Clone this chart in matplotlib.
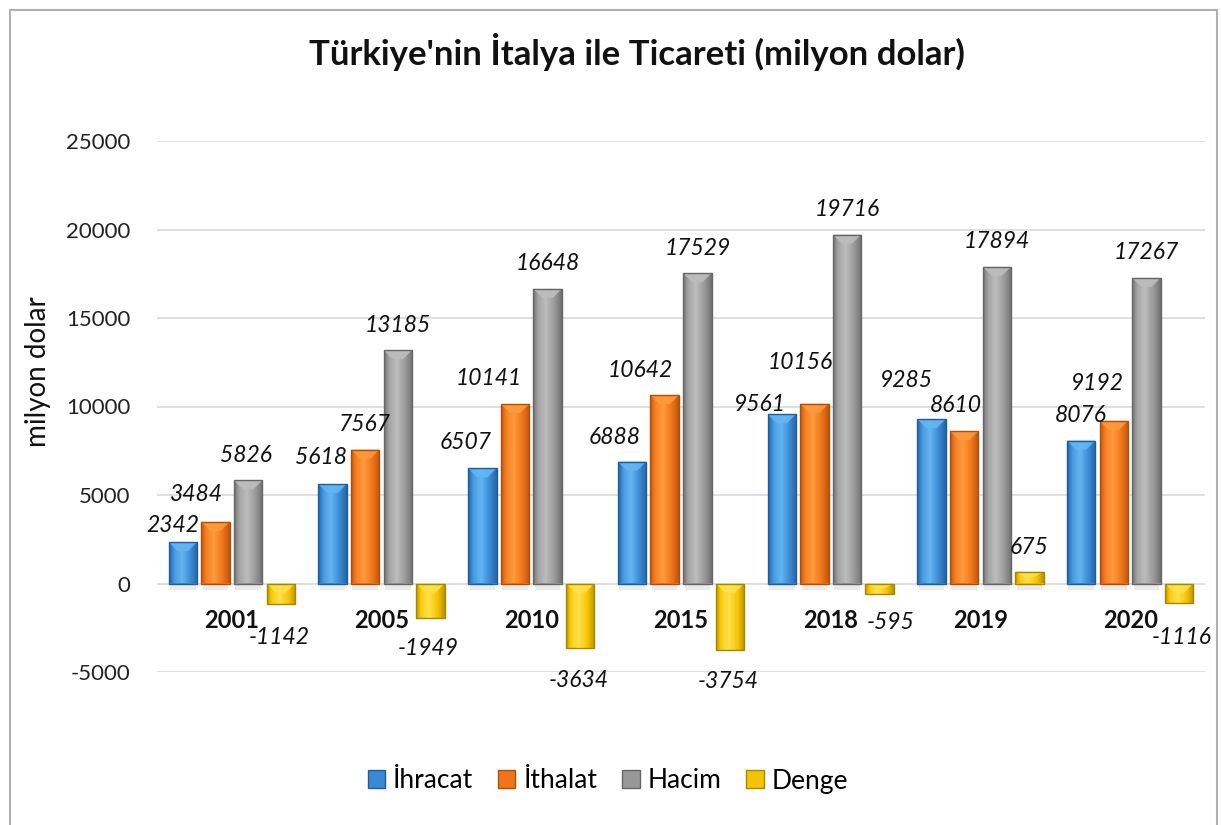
import numpy as np
import matplotlib
matplotlib.use("Agg")
import matplotlib.pyplot as plt
from matplotlib.patches import Patch, Polygon, Rectangle
from matplotlib.colors import LinearSegmentedColormap

plt.rcParams['font.family'] = ['Lato', 'DejaVu Sans']

# ---------------- data ----------------
years = ["2001", "2005", "2010", "2015", "2018", "2019", "2020"]
ihracat = [2342, 5618, 6507, 6888, 9561, 9285, 8076]
ithalat = [3484, 7567, 10141, 10642, 10156, 8610, 9192]
hacim = [5826, 13185, 16648, 17529, 19716, 17894, 17267]
denge = [-1142, -1949, -3634, -3754, -595, 675, -1116]
series_names = ["İhracat", "İthalat", "Hacim", "Denge"]
title = "Türkiye'nin İtalya ile Ticareti (milyon dolar)"
ylabel = "milyon dolar"
yticks = [-5000, 0, 5000, 10000, 15000, 20000, 25000]

# ---------------- style ----------------
# (light, main, dark)
palette = [
    ("#63B6F2", "#3A8AD3", "#1F5C99"),
    ("#FF9A3C", "#EE7519", "#B04E0C"),
    ("#BDBDBD", "#989898", "#666666"),
    ("#FFE14D", "#F5C400", "#A98600"),
]
# label shifts (pixels) relative to default placement, mimicking Excel's collision avoidance
label_dx = [
    [-10, -12, -17, -17, -22, -25, 0],
    [-19, 0, -26, -24, -14, -8, -16],
    [-2, 0, 0, 0, 0, 0, 0],
    [-2, -2, -2, -2, 11, 0, 3],
]
label_dy = [
    [17, 27, 26, 24, 10, 39, 25],
    [27, 25, 26, 25, 41, 26, 37],
    [25, 25, 25, 25, 25, 25, 25],
    [-34, -31, -33, -32, -28, 24, -34],
]

W, H = 1221, 825
fig = plt.figure(figsize=(W / 100, H / 100), dpi=100)
ax = fig.add_axes([157 / W, 1 - 672 / H, (1205 - 157) / W, (672 - 141) / H])

n = len(years)
x = np.arange(n)
spacing = 0.218
width = 0.19
offsets = (np.arange(4) - 1.5) * spacing
all_series = [ihracat, ithalat, hacim, denge]

ymin, ymax = -5000, 25000
ax.set_xlim(-0.5, n - 0.5)
ax.set_ylim(ymin, ymax)
units_per_px = (ymax - ymin) / (672 - 141)

for si, (vals, (light, main, dark)) in enumerate(zip(all_series, palette)):
    bars = ax.bar(x + offsets[si], vals, width, color=main, edgecolor='none', zorder=3)
    cmap = LinearSegmentedColormap.from_list("g", [dark, main, light, main, dark])
    grad = np.linspace(0, 1, 256).reshape(1, -1)
    for bi, b in enumerate(bars):
        x0, y0 = b.get_x(), b.get_y()
        w, h = b.get_width(), b.get_height()
        y_lo, y_hi = min(y0, y0 + h), max(y0, y0 + h)
        # soft shadow under positive bars
        if vals[bi] > 0:
            ax.add_patch(Rectangle((x0 + w * 0.05, -6 * units_per_px), w * 0.9, 6 * units_per_px,
                                   facecolor='#000000', alpha=0.08, edgecolor='none', zorder=2))
        im = ax.imshow(np.interp(grad, [0, 0.2, 0.45, 1], [0.05, 0.35, 0.5, 0.95]),
                       extent=[x0, x0 + w, y_lo, y_hi], aspect='auto', cmap=cmap,
                       vmin=0, vmax=1, zorder=3.2, interpolation='bilinear')
        im.set_clip_path(b)
        # bevel cap
        bev = min(9 * units_per_px, (y_hi - y_lo) * 0.45)
        cap = Polygon([[x0, y_hi], [x0 + w, y_hi], [x0 + w * 0.68, y_hi - bev], [x0 + w * 0.32, y_hi - bev]],
                      closed=True, facecolor=light, edgecolor='none', alpha=0.9, zorder=3.4)
        ax.add_patch(cap)
        ax.add_patch(Rectangle((x0, y0), w, h, facecolor='none', edgecolor=dark, linewidth=1.0, zorder=3.6))
        # data labels
        v = vals[bi]
        ax.annotate(f"{v}", xy=(x0 + w / 2, v), xytext=(label_dx[si][bi], label_dy[si][bi]),
                    textcoords='offset pixels', ha='center', va='center',
                    fontsize=16.5, fontstyle='italic', color='#111111', zorder=5)

# category labels just under the zero line
for i, yr in enumerate(years):
    ax.annotate(yr, xy=(i, 0), xytext=(0, -37), textcoords='offset pixels',
                ha='center', va='center', fontsize=17, fontweight='bold', color='#111111', zorder=5)

ax.set_xticks([])
ax.set_yticks(yticks)
ax.set_yticklabels([str(t) for t in yticks], fontsize=16, color='#222222')
ax.tick_params(axis='y', length=0, pad=19)
ax.grid(axis='y', color='#D9D9D9', linewidth=1.2, zorder=0)
ax.set_axisbelow(True)
for s in ax.spines.values():
    s.set_visible(False)

fig.text(38 / W, 1 - 372 / H, ylabel, rotation=90, ha='center', va='center', fontsize=20, color='#111111')
fig.text(637 / W, 1 - 52 / H, title, ha='center', va='center', fontsize=25, fontweight='bold', color='#111111')

handles = [Patch(facecolor=p[1], edgecolor=p[2]) for p in palette]
fig.legend(handles, series_names, loc='center', bbox_to_anchor=(608 / W, 1 - 781 / H), ncol=4,
           frameon=False, fontsize=19, handlelength=0.65, handleheight=0.65, handletextpad=0.3,
           columnspacing=0.95)

fig.add_artist(Rectangle((10 / W, -0.05), (1217 - 10) / W, 1.05 - 10 / H, transform=fig.transFigure,
                         facecolor='none', edgecolor='#B0B0B0', linewidth=1.5))

fig.savefig("out.png", dpi=100)
